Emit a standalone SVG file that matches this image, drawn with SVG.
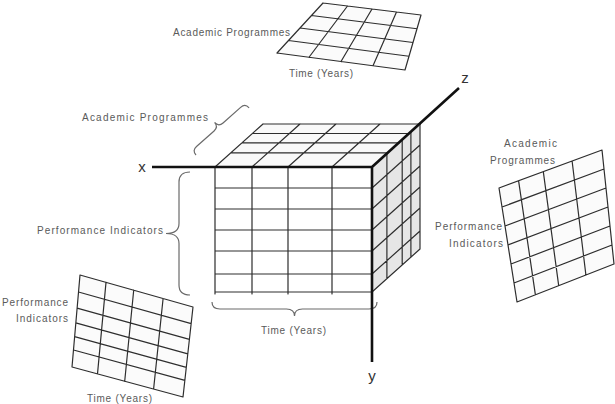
<svg xmlns="http://www.w3.org/2000/svg" width="615" height="404" viewBox="0 0 615 404">
<style>
  .g{stroke:#2e2e2e;stroke-width:1.2;fill:none;stroke-linecap:round}
  .axis{stroke:#111;stroke-width:2.6;fill:none}
  .brace{stroke:#6a6a6a;stroke-width:1.2;fill:none}
  .lbl{font-family:"Liberation Sans",Arial,sans-serif;font-size:10px;fill:#5a5a5a}
  .ax{font-family:"Liberation Sans",Arial,sans-serif;font-size:15px;fill:#333}
</style>
<rect width="615" height="404" fill="#fff"/>

<g id="top-plane">
  <polygon points="323,3 421,15 405,70 277,53" fill="#fbfbfb"/>
  <path class="g" d="M323,3L277,53M347.5,6L309,57.25M372,9L341,61.5M396.5,12L373,65.75M421,15L405,70
  M323,3L421,15M311.5,15.5L417,28.75M300,28L413,42.5M288.5,40.5L409,56.25M277,53L405,70"/>
  <text class="lbl" x="290" y="35.5" text-anchor="end" textLength="117" lengthAdjust="spacing">Academic Programmes</text>
  <text class="lbl" x="289" y="76.5" textLength="64" lengthAdjust="spacing">Time (Years)</text>
</g>

<g id="cube">
  <polygon points="215,167 263,124 420,124 372,167" fill="#f9f9f9"/>
  <polygon points="372,167 420,124 420,249 372,292" fill="#e6e6e6"/>
  <rect x="215" y="167" width="157" height="125" fill="#fff"/>
  <path class="g" d="M230.8,152.8H387.8M241.9,142.9H398.9M252.4,133.5H409.4M263,124H420
  M215,167L263,124M252,167L300,124M288,167L336,124M332,167L380,124"/>
  <path class="g" d="M386.9,153.7V278.7M402.2,139.9V264.9M410.9,132.2V257.2M420,124V249
  M372,188L420,145M372,209L420,166M372,230L420,187M372,251L420,208M372,274L420,231M372,292L420,249"/>
  <path class="g" d="M215,167V294M252,167V294M288,167V294M332,167V294
  M215,188H372M215,209H372M215,230H372M215,251H372M215,274H372M215,292H372"/>
  <path class="brace" transform="translate(196,155) rotate(-41.6)" d="M0,0Q0,-6 6,-6L29.5,-6Q35.5,-6 35.5,-12Q35.5,-6 41.5,-6L65,-6Q71,-6 71,0"/>
  <path class="brace" transform="translate(190,295) rotate(-90)" d="M0,0Q0,-11 10,-11L51.5,-11Q61.5,-11 61.5,-24Q61.5,-11 71.5,-11L113,-11Q123,-11 123,0"/>
  <path class="brace" transform="translate(377,302) rotate(180)" d="M0,0Q0,-7 8,-7L74.5,-7Q82.5,-7 82.5,-14Q82.5,-7 90.5,-7L157,-7Q165,-7 165,0"/>
  <text class="lbl" x="208" y="121" text-anchor="end" textLength="126" lengthAdjust="spacing">Academic Programmes</text>
  <text class="lbl" x="163" y="233.5" text-anchor="end" textLength="126" lengthAdjust="spacing">Performance Indicators</text>
  <text class="lbl" x="261" y="333.5" textLength="65" lengthAdjust="spacing">Time (Years)</text>
</g>

<g id="axes">
  <path class="axis" d="M152,167H372M372,167V362M372,167L459,88"/>
  <text class="ax" x="142" y="172" text-anchor="middle">x</text>
  <text class="ax" x="465" y="83" text-anchor="middle">z</text>
  <text class="ax" x="372" y="381" text-anchor="middle">y</text>
</g>

<g id="right-plane">
  <polygon points="499,188 602,150 614,264 517,302" fill="#fbfbfb"/>
  <path class="g" d="M499,188L517,302M518.6,180.8L535.4,294.8M543.3,171.7L558.7,285.7M572.1,161L585.9,275M602,150L614,264
  M499,188L602,150M502,207L604,169M505,226L606,188M508,245L608,207M511,264L610,226M514,283L612,245M517,302L614,264"/>
  <text class="lbl" x="504" y="146.5" textLength="53" lengthAdjust="spacing">Academic</text>
  <text class="lbl" x="490" y="163.5" textLength="65" lengthAdjust="spacing">Programmes</text>
  <text class="lbl" x="502" y="229.5" text-anchor="end" textLength="67" lengthAdjust="spacing">Performance</text>
  <text class="lbl" x="503" y="246.5" text-anchor="end" textLength="54" lengthAdjust="spacing">Indicators</text>
</g>

<g id="bottom-left-plane">
  <polygon points="80,275 193,307 183,397 72,367" fill="#fbfbfb"/>
  <path class="g" d="M80,275L72,367M106,282.4L97.5,373.9M133.7,290.2L124.7,381.3M163.1,298.5L153.6,389M193,307L183,397
  M80,275L193,307M78.5,292L191.2,323.7M77.1,308.1L189.4,339.4M75.8,322.8L187.8,353.8M74.6,336.6L186.3,367.3M73.5,350L184.9,380.4M72,367L183,397"/>
  <text class="lbl" x="68" y="305.5" text-anchor="end" textLength="66" lengthAdjust="spacing">Performance</text>
  <text class="lbl" x="68" y="321.5" text-anchor="end" textLength="52" lengthAdjust="spacing">Indicators</text>
  <text class="lbl" x="87" y="401.5" textLength="65" lengthAdjust="spacing">Time (Years)</text>
</g>
</svg>
